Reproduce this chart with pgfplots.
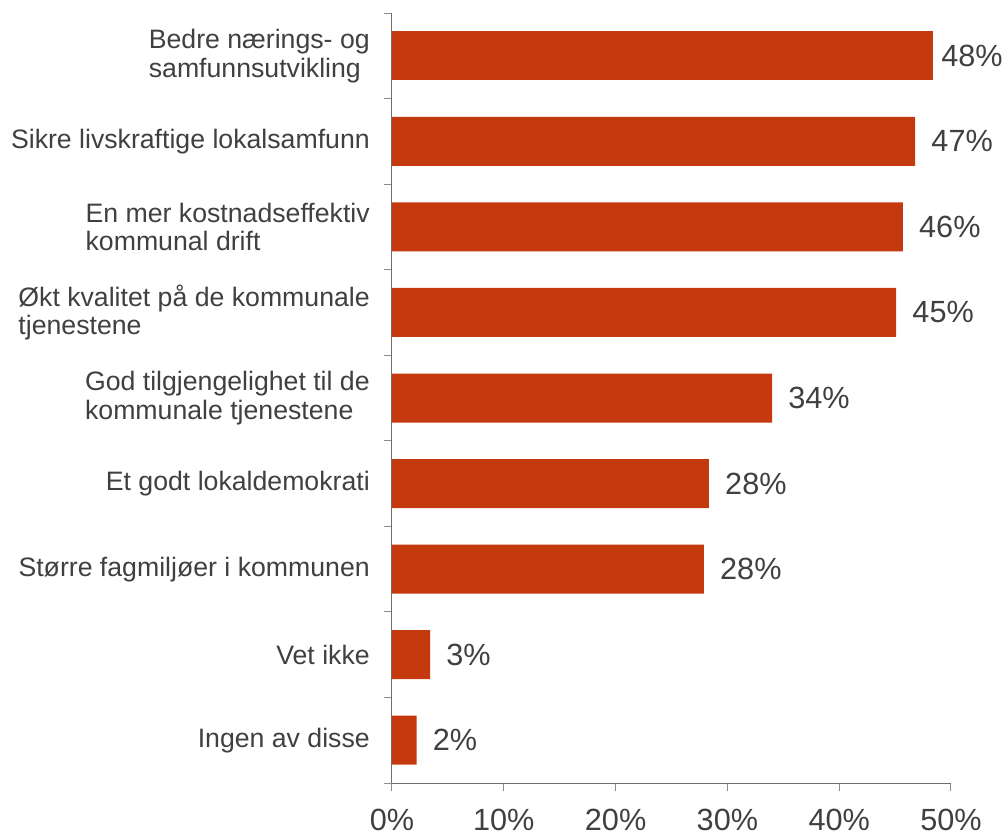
\documentclass[border=0pt]{standalone}
\usepackage{fontspec}
\setmainfont{Liberation Sans}
\usepackage{pgfplots}
\pgfplotsset{compat=1.18}
\usepackage{pgfplotstable}
\definecolor{barc}{RGB}{196,57,14}
\definecolor{txt}{RGB}{64,64,64}
\definecolor{axl}{RGB}{110,110,110}
\definecolor{tkc}{RGB}{140,140,140}

\pgfplotstableread[col sep=comma]{
y,val,lab
0,48.4,48
}\datatop

\pgfplotstableread[col sep=comma]{
y,val,lab
1,46.8,47
2,45.7,46
3,45.1,45
4,34.0,34
5,28.35,28
6,27.9,28
7,3.4,3
8,2.2,2
}\data

\begin{document}
\begin{tikzpicture}
\path[use as bounding box] (0,0) rectangle (756pt,627pt);
\begin{axis}[
  at={(294pt,39.75pt)}, anchor=south west,
  scale only axis, width=419.25pt, height=577.5pt,
  xmin=0, xmax=50, ymin=-0.5, ymax=8.5,
  y dir=reverse,
  xbar, bar width=36.75pt, bar shift=0pt,
  axis x line*=bottom, axis y line*=left,
  axis line style={draw=axl, line width=0.75pt},
  every tick/.style={draw=tkc, line width=0.75pt},
  tick align=outside,
  xtick={0,10,20,30,40,50},
  xticklabel={\pgfmathprintnumber{\tick}\%},
  /pgf/number format/assume math mode=true,
  major tick length=6pt,
  xticklabel style={font=\fontsize{23}{27}\selectfont, text=txt, inner sep=0pt, anchor=north, yshift=-13pt},
  ytick={0,...,8},
  yticklabels={{Bedre nærings- og\\samfunnsutvikling},
               {Sikre livskraftige lokalsamfunn},
               {En mer kostnadseffektiv\\kommunal drift},
               {Økt kvalitet på de kommunale\\tjenestene},
               {God tilgjengelighet til de\\kommunale tjenestene},
               {Et godt lokaldemokrati},
               {Større fagmiljøer i kommunen},
               {Vet ikke},
               {Ingen av disse}},
  yticklabel style={font=\fontsize{20}{21.5}\selectfont, text=txt, align=left, anchor=east, inner sep=0pt, xshift=-10.5pt},
  minor ytick={-0.5,0.5,...,8.5},
  y tick style={draw=none},
  minor y tick style={draw=tkc, line width=0.75pt},
  minor tick length=6pt,
  nodes near coords={\pgfplotspointmeta\%},
  point meta=explicit symbolic,
  nodes near coords style={font=\fontsize{23}{27}\selectfont, text=txt, anchor=west, inner sep=0pt, xshift=12pt},
  clip=false,
]
\addplot[fill=barc, draw=none, nodes near coords style={xshift=-6pt}] table[x=val, y=y, meta=lab] {\datatop};
\addplot[fill=barc, draw=none] table[x=val, y=y, meta=lab] {\data};
\end{axis}
\end{tikzpicture}
\end{document}
